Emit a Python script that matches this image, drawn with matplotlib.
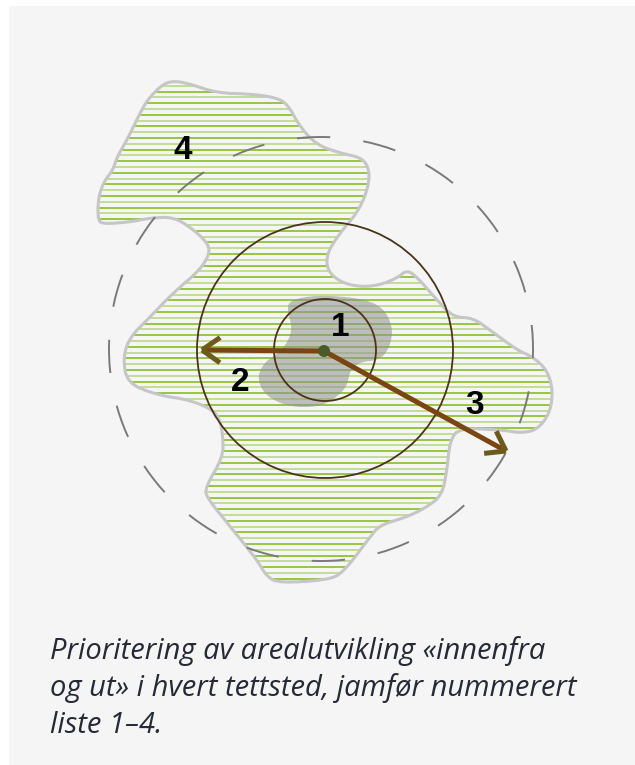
import numpy as np
import matplotlib
matplotlib.use("Agg")
import matplotlib.pyplot as plt
from matplotlib.patches import Polygon, Circle, Arc, Rectangle

# outline of the settlement area (pixel coords, y down)
area_x = [162, 172, 187, 217, 250, 273, 287, 300, 317, 340, 363, 370, 367, 357, 340, 327, 327, 340, 360, 380,
          397, 407, 417, 437, 453, 473, 490, 517, 533, 547, 553, 550, 537, 520, 503, 460, 450, 447, 442, 427,
          407, 380, 370, 343, 327, 280, 267, 257, 233, 207, 205, 223, 223, 220, 213, 190, 157, 127, 123, 130,
          150, 173, 200, 210, 207, 190, 173, 150, 130, 103, 98, 98, 103, 113, 117, 127, 143, 150]
area_y = [85, 81, 83, 93, 94, 97, 103, 127, 145, 153, 158, 172, 192, 213, 233, 253, 270, 282, 287, 285,
          278, 270, 277, 300, 317, 318, 330, 350, 357, 370, 390, 413, 430, 433, 430, 428, 440, 470, 495, 507,
          517, 525, 537, 573, 580, 583, 577, 560, 530, 498, 488, 457, 437, 420, 410, 400, 395, 383, 357, 337,
          317, 293, 270, 253, 242, 227, 217, 218, 222, 224, 220, 200, 183, 170, 157, 140, 107, 97]

# town centre (grey blob)
core_x = [290, 317, 360, 383, 393, 390, 380, 360, 350, 347, 333, 317, 290, 267, 257, 263, 283, 293, 287]
core_y = [300, 295, 298, 307, 327, 347, 360, 362, 370, 387, 400, 407, 407, 397, 380, 363, 350, 330, 310]

centre = (324, 351)
ring_radii = [51, 128]
zone_radius = 212
arrow_tips = [(202, 350), (506, 451)]

labels = ["1", "2", "3", "4"]
label_pos = [(340, 336), (240, 391), (475, 414), (183, 159)]

caption = ["Prioritering av arealutvikling «innenfra",
           "og ut» i hvert tettsted, jamfør nummerert",
           "liste 1–4."]


def chaikin(pts, n=2):
    for _ in range(n):
        nxt = []
        for i in range(len(pts)):
            p, q = pts[i], pts[(i + 1) % len(pts)]
            nxt.append(0.75 * p + 0.25 * q)
            nxt.append(0.25 * p + 0.75 * q)
        pts = np.array(nxt)
    return pts


fig = plt.figure(figsize=(6.35, 7.65), dpi=100)
fig.patch.set_facecolor("white")
ax = fig.add_axes([0, 0, 1, 1])
ax.set_xlim(0, 635)
ax.set_ylim(765, 0)
ax.axis("off")

ax.add_patch(Rectangle((9, 6), 626, 759, facecolor="#f5f5f5", edgecolor="none", zorder=0))

area = chaikin(np.column_stack([area_x, area_y]).astype(float))
clip = Polygon(area, closed=True, facecolor="none", edgecolor="none")
ax.add_patch(clip)

# horizontal hatching inside the area
for i, y in enumerate(np.arange(80, 590, 5.8)):
    col = "#86c020" if i % 2 == 0 else "#b9d884"
    ln, = ax.plot([90, 560], [y, y], color=col, lw=1.2, zorder=1)
    ln.set_clip_path(clip)

core = chaikin(np.column_stack([core_x, core_y]).astype(float))
ax.add_patch(Polygon(core, closed=True, facecolor="#8f8f8f", edgecolor="none", alpha=0.55, zorder=2))

ax.add_patch(Polygon(area, closed=True, facecolor="none", edgecolor="#c6c6c6", lw=2.2, zorder=3))

# dashed outer zone
for k in range(20):
    a0 = 83.5 + 18 * k
    ax.add_patch(Arc((321, 349), 2 * zone_radius, 2 * zone_radius, theta1=a0, theta2=a0 + 9,
                     color="#7a7a7a", lw=1.4, zorder=4))

for r in ring_radii:
    ax.add_patch(Circle((325, 350), r, facecolor="none", edgecolor="#4b3319", lw=1.3, zorder=4))

for tx, ty in arrow_tips:
    ax.plot([centre[0], tx], [centre[1], ty], color="#7b4512", lw=3.6,
            solid_capstyle="butt", zorder=5)
    ang = np.arctan2(centre[1] - ty, centre[0] - tx)
    for d in (np.radians(35), -np.radians(35)):
        ax.plot([tx, tx + 22 * np.cos(ang + d)], [ty, ty + 22 * np.sin(ang + d)],
                color="#6e5b1c", lw=3.6, solid_capstyle="butt", zorder=6)

ax.add_patch(Circle(centre, 6, facecolor="#4a5a2a", edgecolor="none", zorder=7))

for lab, (x, y) in zip(labels, label_pos):
    ax.text(x, y, lab, fontsize=24, fontweight="bold", family="Liberation Sans",
            ha="center", va="baseline", color="black", zorder=8)

for i, line in enumerate(caption):
    ax.text(50, 659 + 37 * i, line, fontsize=21, style="italic", family="Open Sans",
            ha="left", va="baseline", color="#262a36", zorder=8)

fig.savefig("out.png", dpi=100, facecolor="white")
